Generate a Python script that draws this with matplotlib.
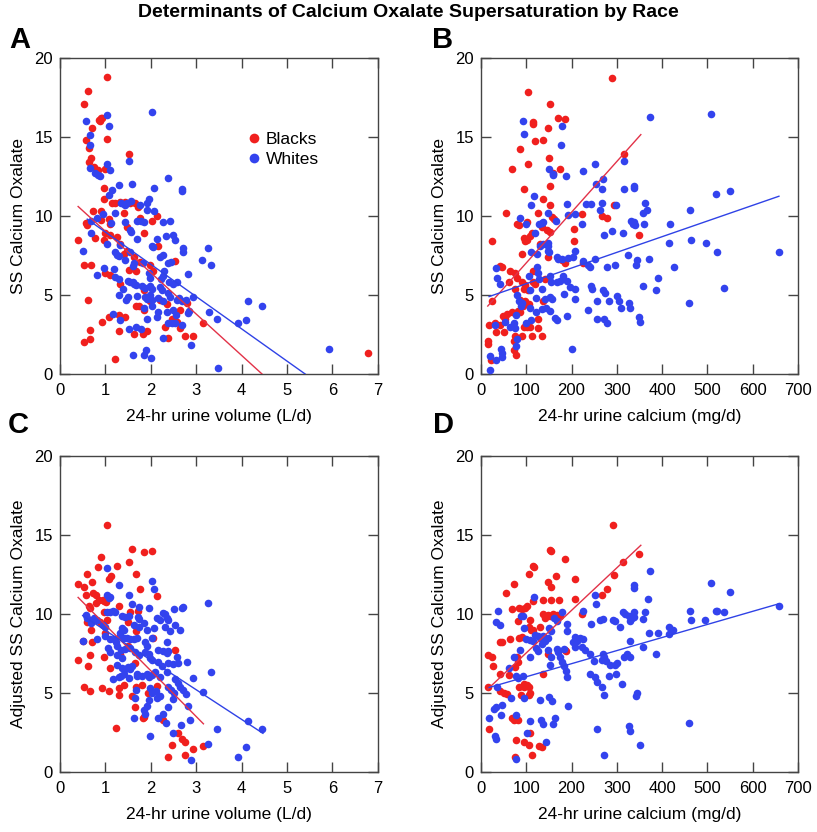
import matplotlib
matplotlib.use("Agg")
import matplotlib.pyplot as plt
from matplotlib.lines import Line2D
from matplotlib import font_manager

names = {f.name for f in font_manager.fontManager.ttflist}
FAM = [f for f in ['Liberation Sans Narrow', 'Liberation Sans', 'DejaVu Sans'] if f in names]
plt.rcParams['font.family'] = FAM

# ---------------- data ----------------
a_blacks = [(1.03,18.8),(0.61,17.9),(0.52,17.1),(0.85,16.1),(0.88,16.0),(0.90,16.2),(0.92,16.2),(0.71,15.6),
 (1.04,14.85),(0.57,14.8),(0.65,14.3),(0.68,13.7),(1.53,13.9),(0.63,13.4),(0.74,13.1),(0.83,12.9),(0.99,13.0),
 (0.96,11.8),(0.97,11.1),(1.15,10.8),(1.22,10.8),(1.32,10.9),(1.43,10.9),(1.54,10.8),(1.65,10.8),(1.72,10.6),
 (0.72,10.3),(0.90,10.3),(0.57,9.55),(0.59,9.4),(0.90,9.75),(1.41,10.2),(1.07,9.8),(1.10,9.5),(1.47,9.3),
 (1.76,9.9),(2.13,10.0),(2.02,9.7),(0.40,8.5),(0.77,8.6),(0.99,8.9),(1.10,8.8),(1.25,8.7),(0.96,8.45),(1.86,8.9),
 (1.32,8.2),(1.47,7.8),(1.40,7.6),(1.62,7.4),(1.76,7.1),(1.99,6.9),(2.15,8.1),(2.54,7.15),(0.54,6.9),(0.68,6.9),
 (0.99,6.4),(1.10,6.25),(1.32,5.7),(1.51,6.6),(1.68,6.5),(2.06,6.5),(1.84,5.3),(1.99,4.6),(2.20,4.7),(0.61,4.66),
 (1.73,4.3),(1.68,4.3),(1.84,4.05),(2.35,4.4),(2.65,4.05),(2.79,4.5),(1.07,3.6),(1.29,3.75),(0.92,3.3),(1.43,3.6),
 (2.46,3.5),(2.57,3.3),(2.32,3.0),(2.65,2.9),(3.16,3.2),(0.66,2.8),(1.29,2.75),(1.64,2.5),(1.82,2.5),(1.91,2.7),
 (2.39,2.3),(2.76,2.4),(2.93,2.4),(0.66,2.2),(0.54,2.0),(1.22,0.98),(6.78,1.3)]

a_whites = [(1.04,16.4),(0.57,16.0),(1.07,15.7),(0.67,15.15),(0.67,14.5),(2.03,16.57),(1.03,13.3),(1.52,13.5),
 (0.66,13.05),(1.10,12.9),(0.77,12.7),(0.83,12.6),(0.88,12.5),(2.39,12.4),(2.07,11.8),(2.68,11.7),(2.69,11.6),
 (1.58,12.0),(1.29,11.95),(1.15,11.65),(1.09,11.3),(1.96,11.1),(1.91,10.8),(1.35,10.8),(1.40,10.75),(1.43,10.7),
 (1.48,10.85),(1.57,10.95),(1.76,10.7),(1.21,10.2),(1.91,10.4),(2.08,10.3),(0.94,10.1),(0.81,9.9),(0.68,9.7),
 (1.70,9.7),(1.78,9.7),(1.84,9.6),(2.28,9.65),(2.43,9.7),(1.13,9.55),(1.43,9.65),(1.54,9.1),(1.57,9.0),(0.68,8.9),
 (1.69,8.55),(2.13,8.55),(2.34,8.75),(2.49,8.8),(2.54,8.45),(1.04,8.2),(1.32,8.15),(2.03,8.1),(2.06,8.05),
 (2.72,8.0),(2.72,7.7),(1.21,7.7),(1.25,7.55),(1.29,7.45),(1.55,7.7),(2.20,7.4),(2.28,7.5),(0.51,7.76),(2.44,7.1),
 (2.39,7.05),(1.43,7.2),(1.62,7.0),(1.60,6.85),(1.82,7.0),(0.98,6.7),(1.18,6.65),(1.95,6.4),(1.99,6.1),(2.30,6.5),
 (2.28,6.2),(2.23,6.0),(2.82,6.35),(0.81,6.25),(1.21,6.15),(1.29,6.0),(1.50,5.9),(1.55,5.8),(1.60,5.85),
 (1.63,5.7),(1.67,5.65),(1.38,5.4),(1.80,5.55),(1.87,5.45),(1.99,5.55),(2.02,5.35),(2.20,5.5),(2.24,5.3),
 (2.41,5.85),(2.50,5.7),(2.57,5.8),(1.30,5.0),(1.46,4.7),(1.49,4.85),(1.69,4.95),(1.87,4.9),(1.91,4.75),(1.99,5.0),
 (2.02,4.7),(2.17,4.8),(2.26,4.6),(2.39,5.1),(2.43,4.9),(2.57,4.7),(2.63,4.8),(2.68,4.6),(2.77,4.7),(2.93,4.9),
 (1.16,3.8),(1.32,3.4),(1.85,4.2),(2.02,4.3),(2.15,3.9),(2.13,3.6),(1.91,3.5),(2.35,3.95),(2.50,4.05),(2.56,3.75),
 (2.81,3.85),(2.85,4.0),(3.28,3.95),(3.46,3.5),(2.37,3.2),(2.46,3.2),(2.54,3.2),(2.68,3.1),(1.52,2.85),(1.68,2.95),
 (1.78,2.85),(2.28,2.3),(2.88,1.86),(3.13,7.2),(3.26,8.0),(3.33,6.9),(4.14,4.59),(4.46,4.33),(3.93,3.25),
 (4.09,3.4),(5.93,1.55),(1.60,1.2),(1.86,1.23),(1.89,1.5),(2.00,1.0),(3.49,0.36)]

b_blacks = [(290,18.74),(104,17.86),(153,17.1),(171,16.2),(186,16.15),(116,15.97),(115,15.84),(149,15.57),
 (138,14.83),(120,14.77),(87,14.24),(104,13.3),(151,13.7),(68,13.0),(175,13.0),(159,12.7),(315,13.9),(96,11.7),
 (153,11.9),(138,11.1),(153,10.67),(55,10.2),(125,10.2),(157,9.96),(162,9.8),(293,10.7),(267,10.0),(278,9.9),
 (223,10.15),(79,9.5),(85,9.4),(101,9.6),(135,9.3),(146,9.1),(153,9.0),(206,9.16),(350,8.8),(94,8.6),(101,8.5),
 (97,8.4),(112,8.9),(109,8.75),(131,8.2),(206,8.4),(24,8.4),(90,7.6),(149,7.4),(179,7.2),(186,7.05),(226,7.05),
 (43,6.85),(46,6.8),(65,6.5),(76,6.4),(115,6.5),(61,5.84),(79,6.1),(90,5.8),(97,5.65),(94,5.4),(103,5.3),
 (115,5.8),(120,5.7),(142,6.0),(76,5.4),(24,4.6),(87,4.7),(98,4.6),(93,4.3),(105,4.4),(81,4.0),(87,3.9),(68,3.9),
 (57,3.8),(49,3.65),(54,3.45),(138,4.6),(17,3.1),(32,3.2),(43,3.1),(50,2.65),(127,3.5),(94,3.0),(101,2.95),
 (109,3.0),(127,2.9),(15,2.1),(15,1.9),(76,2.4),(74,2.1),(90,2.4),(112,2.4),(135,2.4),(34,2.65),(72,1.5),
 (22,0.87),(77,1.23)]

b_whites = [(92,16.03),(96,15.2),(179,15.67),(176,14.47),(151,13.0),(159,12.67),(160,12.6),(188,12.5),
 (226,12.87),(252,13.3),(316,13.5),(254,12.0),(269,12.35),(267,11.7),(118,11.26),(110,10.67),(190,10.76),
 (232,10.76),(243,10.76),(263,10.4),(267,10.8),(299,10.7),(316,11.7),(337,11.9),(87,9.85),(99,9.5),(129,9.5),
 (134,9.55),(138,9.6),(147,10.2),(166,9.7),(193,10.06),(208,10.1),(223,9.5),(120,8.9),(131,8.1),(138,8.2),
 (149,8.3),(147,8.1),(271,8.8),(289,9.05),(313,8.95),(331,9.7),(337,9.6),(111,7.7),(124,7.6),(151,7.7),
 (149,7.8),(168,7.4),(171,7.3),(179,7.3),(192,7.35),(208,7.8),(204,7.4),(226,7.15),(237,6.9),(241,6.8),
 (251,7.3),(278,6.8),(295,6.9),(325,7.5),(344,7.2),(34,6.7),(35,6.1),(41,5.7),(124,6.8),(126,6.4),(105,6.2),
 (129,6.0),(135,5.4),(153,6.2),(154,5.8),(168,5.8),(175,5.9),(182,6.2),(191,5.9),(197,5.5),(208,5.4),
 (184,5.06),(153,4.9),(157,4.75),(142,4.75),(122,4.8),(109,5.3),(79,5.0),(85,4.6),(91,4.5),(89,4.3),(109,4.2),
 (207,4.75),(243,5.6),(245,5.4),(269,5.3),(274,5.1),(257,4.65),(282,4.65),(300,4.95),(304,4.65),(310,4.2),
 (326,4.5),(350,3.6),(236,4.05),(135,4.1),(144,4.2),(153,4.0),(122,3.9),(111,3.4),(100,3.2),(164,3.55),
 (168,3.4),(191,3.7),(256,3.5),(271,3.45),(278,3.2),(78,3.74),(72,3.2),(65,2.95),(76,2.9),(54,3.3),(32,3.1),
 (79,2.2),(78,1.8),(44,1.55),(201,1.6),(19,1.13),(19,0.28),(33,0.87),(47,1.34),(47,1.1),
 (373,16.26),(508,16.43),(338,11.74),(519,11.38),(551,11.57),(362,10.8),(367,10.4),(358,10.2),(461,10.4),
 (335,9.5),(340,9.4),(360,9.5),(417,9.5),(415,8.3),(464,8.5),(497,8.3),(522,7.7),(658,7.7),(372,7.3),(342,6.9),
 (426,6.8),(392,6.1),(357,5.6),(386,5.3),(537,5.44),(460,4.5),(351,3.3),(329,4.2)]

c_blacks = [(1.03,15.66),(1.58,14.1),(1.86,13.95),(2.02,14.0),(0.90,13.6),(1.53,13.3),(0.83,12.97),(1.25,13.05),
 (0.60,12.55),(1.12,12.4),(1.09,12.2),(1.67,12.55),(0.40,11.9),(0.53,11.7),(0.71,12.0),(1.76,11.6),(2.13,11.15),
 (0.57,11.2),(0.72,11.3),(0.79,11.2),(0.87,10.9),(0.94,10.9),(0.98,10.8),(1.01,10.75),(0.79,10.7),(0.63,10.5),
 (0.66,10.4),(1.29,10.5),(1.54,10.1),(1.71,10.2),(0.96,10.1),(0.59,9.5),(0.88,9.5),(1.03,9.6),(1.49,9.5),
 (0.68,9.0),(0.99,8.8),(1.32,8.6),(1.68,8.95),(0.51,8.3),(0.70,8.25),(1.49,8.0),(2.04,8.5),(0.66,7.4),(0.39,7.1),
 (0.61,6.7),(0.98,7.3),(1.10,6.6),(1.32,7.5),(1.65,6.9),(2.54,7.7),(0.54,5.4),(0.66,5.1),(0.92,5.3),(1.09,5.15),
 (1.29,5.3),(1.29,4.9),(1.41,5.5),(1.68,5.4),(1.80,5.5),(2.13,5.45),(1.58,4.8),(1.93,5.0),(1.65,4.1),(1.85,3.5),
 (1.82,3.4),(2.28,3.3),(1.24,2.76),(2.61,2.45),(2.68,2.1),(2.76,1.9),(2.46,1.7),(2.94,1.43),(3.16,1.65),
 (2.39,0.97),(2.76,1.05)]

c_whites = [(1.04,12.9),(1.29,11.85),(2.02,12.1),(2.07,11.6),(1.04,11.2),(1.10,11.1),(1.08,11.0),(1.51,11.2),
 (3.26,10.7),(1.58,10.65),(1.75,10.45),(1.95,10.35),(2.72,10.45),(2.69,10.4),(2.51,10.3),(2.28,10.05),(2.31,10.0),
 (1.03,10.15),(1.10,10.1),(1.16,10.2),(1.21,10.1),(0.57,9.95),(0.60,9.75),(0.74,9.75),(0.81,9.65),(0.68,9.4),
 (1.36,9.9),(1.43,9.8),(1.51,9.9),(1.71,9.8),(1.73,9.7),(2.13,9.75),(2.20,9.65),(2.35,9.75),(2.39,9.65),
 (0.94,9.3),(0.99,9.2),(1.36,9.1),(1.40,9.0),(1.32,8.8),(1.62,9.3),(1.73,9.2),(1.85,9.4),(1.91,9.0),(2.08,9.1),
 (2.32,9.2),(2.43,8.9),(2.54,9.3),(2.65,9.0),(0.51,8.3),(0.81,8.4),(0.99,8.6),(1.10,8.4),(1.18,8.4),(1.24,8.2),
 (1.32,8.6),(1.40,8.5),(1.47,8.5),(1.54,8.4),(1.64,8.4),(1.69,8.5),(1.88,8.2),(1.91,8.0),(2.02,8.5),(2.35,8.2),
 (1.05,7.85),(1.10,7.6),(1.25,7.95),(1.34,7.75),(1.43,7.8),(1.54,7.85),(1.65,7.6),(1.73,7.4),(1.88,7.6),
 (1.95,7.45),(1.99,7.2),(2.17,7.75),(2.28,7.65),(2.35,7.55),(2.39,7.65),(2.57,7.3),(1.25,7.4),(1.36,7.2),
 (2.02,7.1),(2.17,6.95),(2.24,6.7),(2.39,6.9),(2.50,6.85),(2.61,6.9),(2.79,6.95),(1.36,6.6),(1.43,6.5),(1.49,6.65),
 (1.54,6.5),(1.58,6.7),(1.25,6.8),(1.69,6.2),(1.80,6.1),(1.69,6.05),(1.91,6.2),(1.97,6.0),(2.02,6.15),(2.10,6.3),
 (2.20,6.0),(2.35,6.3),(1.16,5.9),(1.29,6.0),(1.34,6.1),(1.41,6.2),(1.51,5.95),(2.93,5.95),(3.33,6.3),(2.54,5.9),
 (2.61,5.65),(2.65,5.4),(2.39,5.4),(2.44,5.2),(2.51,5.0),(2.71,5.2),(2.78,4.95),(1.99,5.3),(2.02,5.0),(2.12,5.15),
 (1.68,5.2),(1.66,4.7),(3.15,5.05),(2.13,4.7),(2.20,4.8),(1.95,4.55),(2.50,4.6),(1.91,4.2),(1.85,3.95),(1.88,3.7),
 (2.39,4.1),(2.83,4.2),(1.62,3.4),(2.17,3.4),(2.28,3.65),(2.34,3.1),(1.99,2.3),(2.49,2.5),(2.66,3.0),(2.87,3.3),
 (3.46,2.75),(3.27,1.8),(2.88,0.76),(4.14,3.23),(4.46,2.74),(4.09,1.6),(3.93,0.95)]

d_blacks = [(291,15.63),(153,14.06),(154,14.0),(186,13.5),(115,13.05),(118,12.95),(105,12.55),(74,11.9),
 (165,12.4),(149,12.0),(154,11.7),(207,12.2),(313,13.3),(293,12.5),(55,11.3),(116,10.8),(138,10.9),(155,10.9),
 (173,10.9),(207,10.95),(278,11.6),(267,11.2),(68,10.3),(85,10.4),(91,10.3),(98,10.4),(101,10.5),(81,9.55),
 (109,9.65),(138,9.97),(142,9.76),(147,9.95),(153,9.9),(160,10.0),(168,9.95),(175,9.9),(223,9.97),(350,13.8),
 (65,8.4),(41,8.2),(46,8.2),(85,8.5),(90,8.55),(105,9.2),(111,9.0),(116,9.0),(131,9.2),(149,7.45),(186,7.75),
 (188,7.65),(15,7.4),(24,7.25),(26,6.7),(79,7.25),(81,6.97),(138,6.2),(41,6.23),(61,6.13),(76,6.65),(96,5.6),
 (101,5.5),(96,5.35),(105,5.4),(85,5.35),(41,5.1),(50,5.0),(57,4.95),(109,5.0),(105,4.9),(15,5.35),(89,4.85),
 (68,3.4),(72,3.3),(81,3.3),(17,2.7),(109,2.5),(78,2.05),(94,1.9),(105,1.7),(128,1.65),(135,1.6),(113,1.1),
 (76,0.95)]

d_whites = [(118,11.1),(38,10.2),(34,9.5),(43,9.3),(89,9.9),(93,9.9),(96,9.1),(99,8.4),(109,8.35),(115,8.3),
 (120,8.7),(125,8.6),(131,8.5),(137,8.6),(142,8.3),(147,8.5),(151,9.1),(154,8.9),(162,9.75),(168,9.55),
 (180,10.1),(191,9.35),(191,8.9),(208,8.55),(212,8.3),(219,8.5),(226,8.4),(226,10.2),(252,11.2),(254,10.65),
 (244,9.35),(263,9.6),(270,9.7),(291,9.6),(296,9.55),(306,9.2),(313,10.1),(318,10.0),(326,9.9),(333,9.75),
 (338,11.85),(339,10.1),(87,7.7),(109,7.25),(122,7.85),(127,7.65),(135,8.1),(149,7.75),(155,7.25),(153,6.8),
 (168,7.8),(171,7.6),(175,7.25),(179,6.95),(184,6.7),(188,6.4),(191,6.0),(184,7.8),(204,8.2),(208,7.9),
 (223,7.9),(230,7.7),(240,7.45),(241,6.2),(249,7.0),(269,7.45),(267,7.1),(271,7.25),(276,7.0),(284,6.8),
 (295,6.76),(300,6.9),(315,7.3),(322,7.45),(299,6.2),(282,6.1),(252,6.0),(256,5.7),(272,4.9),(267,5.4),
 (311,5.6),(72,7.3),(63,6.57),(78,6.1),(81,5.95),(93,6.1),(35,5.35),(67,4.7),(94,4.7),(131,4.55),(151,4.77),
 (157,4.5),(164,3.4),(193,4.2),(344,5.0),(351,1.7),(28,4.0),(34,4.1),(46,4.25),(44,3.6),(17,3.4),(30,2.25),
 (78,3.6),(101,2.5),(109,3.25),(133,3.3),(138,3.05),(144,1.9),(160,3.05),(257,2.75),(326,2.9),(271,1.1),
 (78,0.8),(373,12.7),(338,11.67),(507,11.96),(550,11.4),(369,10.96),(362,10.15),(358,9.66),(329,9.55),
 (338,9.8),(461,10.2),(464,9.6),(519,10.2),(522,10.2),(537,10.1),(495,9.6),(658,10.5),(372,8.8),(391,8.8),
 (415,9.2),(424,9.0),(415,8.75),(329,8.3),(358,7.9),(386,7.5),(329,7.3),(342,4.8),(460,3.1),(329,2.6),
 (33,2.1)]

# regression line end points (x, y)
a_fit_black = [(0.40, 10.6), (4.45, 0.0)]
a_fit_white = [(0.60, 9.8), (5.40, 0.0)]
b_fit_black = [(15, 4.3), (353, 15.15)]
b_fit_white = [(18, 4.9), (658, 11.25)]
c_fit_black = [(0.40, 11.05), (3.16, 3.05)]
c_fit_white = [(0.50, 9.9), (4.47, 2.45)]
d_fit_black = [(15, 5.25), (353, 14.35)]
d_fit_white = [(18, 5.35), (658, 10.65)]

vol_ticks = [0, 1, 2, 3, 4, 5, 6, 7]
ca_ticks = [0, 100, 200, 300, 400, 500, 600, 700]
y_ticks = [0, 5, 10, 15, 20]

RED = '#F0201E'
BLUE = '#3343EE'
RED_LINE = '#E23248'
BLUE_LINE = '#2F42E6'

fig = plt.figure(figsize=(8.17, 8.32), dpi=100)

def panel(rect, blacks, whites, fb, fw, xt, xlabel, ylabel, letter, lx, ly):
    ax = fig.add_axes(rect)
    bx, by = zip(*blacks)
    wx, wy = zip(*whites)
    ax.scatter(bx, by, s=30, color=RED, linewidths=0, zorder=2)
    ax.scatter(wx, wy, s=30, color=BLUE, linewidths=0, zorder=3)
    ax.plot([p[0] for p in fb], [p[1] for p in fb], color=RED_LINE, lw=1.0, zorder=4)
    ax.plot([p[0] for p in fw], [p[1] for p in fw], color=BLUE_LINE, lw=1.0, zorder=4)
    ax.set_xlim(xt[0], xt[-1])
    ax.set_ylim(0, 20)
    ax.set_xticks(xt)
    ax.set_yticks(y_ticks)
    ax.tick_params(direction='in', length=7, width=1, top=True, right=True,
                   labelsize=12, color='#444444')
    ax.tick_params(axis='x', pad=6.5)
    ax.tick_params(axis='y', pad=5)
    for s in ax.spines.values():
        s.set_color('#444444')
        s.set_linewidth(1.0)
    ax.set_xlabel(xlabel, fontsize=12.5, labelpad=8)
    ax.set_ylabel(ylabel, fontsize=12.5, labelpad=6)
    fig.text(lx, ly, letter, fontsize=21, fontweight='bold', ha='left', va='baseline')
    return ax

axA = panel([0.0734, 0.5505, 0.389, 0.3798], a_blacks, a_whites, a_fit_black, a_fit_white,
            vol_ticks, '24-hr urine volume (L/d)', 'SS Calcium Oxalate', 'A', 0.011, 0.9423)
axB = panel([0.5887, 0.5505, 0.388, 0.3798], b_blacks, b_whites, b_fit_black, b_fit_white,
            ca_ticks, '24-hr urine calcium (mg/d)', 'SS Calcium Oxalate', 'B', 0.529, 0.9423)
axC = panel([0.0734, 0.0721, 0.389, 0.3798], c_blacks, c_whites, c_fit_black, c_fit_white,
            vol_ticks, '24-hr urine volume (L/d)', 'Adjusted SS Calcium Oxalate', 'C', 0.010, 0.4796)
axD = panel([0.5887, 0.0721, 0.388, 0.3798], d_blacks, d_whites, d_fit_black, d_fit_white,
            ca_ticks, '24-hr urine calcium (mg/d)', 'Adjusted SS Calcium Oxalate', 'D', 0.530, 0.4796)

handles = [Line2D([], [], marker='o', ls='', color=RED, markersize=7, markeredgewidth=0),
           Line2D([], [], marker='o', ls='', color=BLUE, markersize=7, markeredgewidth=0)]
axA.legend(handles, ['Blacks', 'Whites'], loc='upper left', bbox_to_anchor=(0.56, 0.795),
           frameon=False, fontsize=12.5, handlelength=0.8, handletextpad=0.3,
           labelspacing=0.3, borderpad=0)

fig.suptitle('Determinants of Calcium Oxalate Supersaturation by Race', fontsize=14,
             fontweight='bold', y=0.995, va='top')

fig.savefig('out.png', dpi=100)
